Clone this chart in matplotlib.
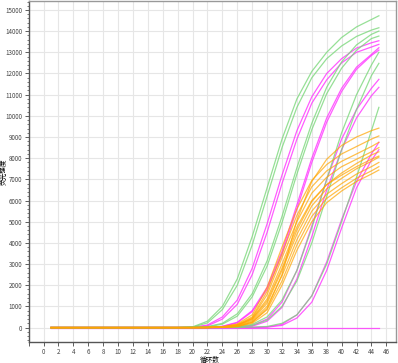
import numpy as np
import matplotlib
matplotlib.use('Agg')
from matplotlib import pyplot as plt
from matplotlib.ticker import MultipleLocator

plt.rcParams['font.family'] = ['Noto Sans CJK SC', 'DejaVu Sans']

# cycle numbers at which the curves were read
cycles = [1, 18, 20, 22, 24, 26, 28, 30, 32, 34, 36, 38, 40, 42, 44, 45]

# fluorescence values, one list per well
green_curves = [
    [0, 0, 30, 300, 1000, 2300, 4300, 6600, 8900, 10800, 12100, 13000, 13700, 14200, 14550, 14726],
    [0, 0, 20, 220, 850, 2000, 3900, 6200, 8500, 10400, 11800, 12700, 13300, 13750, 14050, 14160],
    [0, 0, 5, 45, 200, 650, 1600, 3150, 5250, 7550, 9650, 11350, 12550, 13350, 13850, 14004],
    [0, 0, 3, 30, 160, 540, 1450, 2900, 4950, 7250, 9350, 11050, 12250, 13100, 13650, 13768],
    [0, 0, 0, 0, 10, 40, 150, 500, 1300, 2700, 4700, 7000, 9200, 11000, 12400, 13000],
    [0, 0, 0, 0, 0, 20, 100, 350, 1000, 2200, 4000, 6200, 8400, 10300, 11900, 12480],
    [0, 0, 0, 0, 0, 0, 20, 50, 200, 600, 1500, 3000, 5000, 7100, 9300, 10400],
]
magenta_curves = [
    [0, 0, 0, 0, 0, 0, 0, 0, 0, 0, 0, 0, 0, 0, 0, 0],
    [0, 0, 10, 120, 500, 1300, 2800, 4900, 7200, 9300, 10900, 12000, 12700, 13200, 13450, 13547],
    [0, 0, 0, 80, 400, 1100, 2500, 4500, 6800, 8900, 10600, 11700, 12500, 13000, 13250, 13376],
    [0, 0, 0, 0, 60, 250, 800, 1900, 3600, 5800, 8000, 9900, 11300, 12300, 12900, 13216],
    [0, 0, 0, 0, 50, 220, 750, 1800, 3450, 5600, 7800, 9700, 11150, 12200, 12850, 13107],
    [0, 0, 0, 0, 0, 30, 100, 400, 1200, 2700, 4800, 7000, 8900, 10300, 11300, 11724],
    [0, 0, 0, 0, 0, 20, 60, 300, 950, 2300, 4300, 6500, 8400, 9900, 10950, 11347],
    [0, 0, 0, 0, 0, 0, 0, 30, 150, 600, 1500, 3100, 5100, 6900, 8200, 8750],
    [0, 0, 0, 0, 0, 0, 0, 20, 100, 450, 1200, 2700, 4700, 6600, 7900, 8400],
]
orange_curves = [
    [0, 0, 0, 2, 10, 50, 250, 900, 2500, 5075, 6900, 7950, 8600, 9000, 9300, 9420],
    [0, 0, 0, 5, 40, 170, 600, 1900, 3800, 5600, 6950, 7700, 8200, 8550, 8900, 9050],
    [0, 0, 0, 4, 30, 140, 500, 1700, 3500, 5300, 6650, 7400, 7850, 8200, 8550, 8750],
    [0, 0, 0, 3, 25, 120, 450, 1550, 3300, 5000, 6350, 7100, 7600, 7950, 8300, 8500],
    [0, 0, 0, 3, 20, 100, 400, 1250, 2800, 4600, 5950, 6750, 7300, 7750, 8150, 8300],
    [0, 0, 0, 3, 22, 110, 420, 1350, 3000, 4750, 6000, 6750, 7200, 7600, 7950, 8100],
    [0, 0, 0, 2, 18, 90, 350, 1150, 2700, 4400, 5750, 6550, 7050, 7500, 7850, 8050],
    [0, 0, 0, 2, 15, 75, 300, 1000, 2450, 4150, 5500, 6300, 6800, 7250, 7600, 7800],
    [0, 0, 0, 2, 12, 60, 250, 850, 2200, 3900, 5250, 6100, 6600, 7050, 7400, 7600],
    [0, 0, 0, 1, 10, 50, 200, 700, 2000, 3650, 5000, 5900, 6450, 6900, 7250, 7440],
]

xticks = list(range(0, 47, 2))

fig = plt.figure(figsize=(3.98, 3.63), dpi=100)
ax = fig.add_axes([0.072, 0.058, 0.923, 0.939])

for vals in magenta_curves:
    ax.plot(cycles, vals, color='#FF33FF', lw=0.9, alpha=0.8)
for vals in green_curves:
    ax.plot(cycles, vals, color='#7CD87C', lw=0.9, alpha=0.8)
for vals in orange_curves:
    ax.plot(cycles, vals, color='#FFA500', lw=0.9, alpha=0.7)

ax.set_xlim(-2, 47.3)
ax.set_ylim(-680, 15420)
ax.set_xticks([-2] + xticks)
ax.set_xticklabels([''] + [str(t) for t in xticks])
ax.yaxis.set_major_locator(MultipleLocator(1000))
ax.yaxis.set_minor_locator(MultipleLocator(200))
ax.yaxis.set_major_formatter(lambda v, p: '%d' % v)

ax.grid(True, color='#E6E6E6', lw=0.8)
ax.set_axisbelow(True)
ax.tick_params(labelsize=4.5, length=3, width=0.6, colors='#444444', pad=1.5)
ax.tick_params(which='minor', length=1.5, width=0.5, colors='#444444')
for s in ['left', 'bottom']:
    ax.spines[s].set_color('#555555')
    ax.spines[s].set_linewidth(1.0)
for s in ['top', 'right']:
    ax.spines[s].set_color('#999999')
    ax.spines[s].set_linewidth(1.0)

fig.text(210 / 398, 1 - 359.5 / 363, '循环数', fontsize=4.8, ha='center', va='center')
fig.text(4 / 398, 1 - 172 / 363, '荧光强度', fontsize=4.8, rotation=90,
         ha='center', va='center')

fig.savefig('out.png', dpi=100)
